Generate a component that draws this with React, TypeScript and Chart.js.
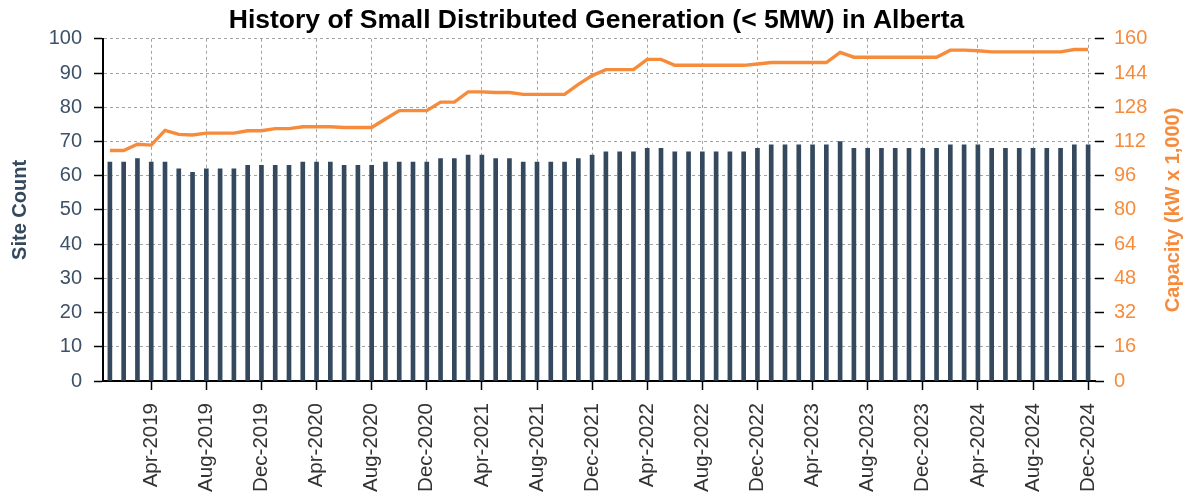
import React, { useEffect, useRef } from "react";
import { Chart, registerables } from "chart.js";

Chart.register(...registerables);

const months: string[] = [
  "Jan-2019", "Feb-2019", "Mar-2019", "Apr-2019", "May-2019", "Jun-2019", "Jul-2019", "Aug-2019", "Sep-2019", "Oct-2019", "Nov-2019", "Dec-2019",
  "Jan-2020", "Feb-2020", "Mar-2020", "Apr-2020", "May-2020", "Jun-2020", "Jul-2020", "Aug-2020", "Sep-2020", "Oct-2020", "Nov-2020", "Dec-2020",
  "Jan-2021", "Feb-2021", "Mar-2021", "Apr-2021", "May-2021", "Jun-2021", "Jul-2021", "Aug-2021", "Sep-2021", "Oct-2021", "Nov-2021", "Dec-2021",
  "Jan-2022", "Feb-2022", "Mar-2022", "Apr-2022", "May-2022", "Jun-2022", "Jul-2022", "Aug-2022", "Sep-2022", "Oct-2022", "Nov-2022", "Dec-2022",
  "Jan-2023", "Feb-2023", "Mar-2023", "Apr-2023", "May-2023", "Jun-2023", "Jul-2023", "Aug-2023", "Sep-2023", "Oct-2023", "Nov-2023", "Dec-2023",
  "Jan-2024", "Feb-2024", "Mar-2024", "Apr-2024", "May-2024", "Jun-2024", "Jul-2024", "Aug-2024", "Sep-2024", "Oct-2024", "Nov-2024", "Dec-2024",
];

const shownMonthLabels: string[] = [
  "Apr-2019", "Aug-2019", "Dec-2019", "Apr-2020", "Aug-2020", "Dec-2020",
  "Apr-2021", "Aug-2021", "Dec-2021", "Apr-2022", "Aug-2022", "Dec-2022",
  "Apr-2023", "Aug-2023", "Dec-2023", "Apr-2024", "Aug-2024", "Dec-2024",
];

const siteCount: number[] = [
  64, 64, 65, 64, 64, 62, 61, 62, 62, 62, 63, 63,
  63, 63, 64, 64, 64, 63, 63, 63, 64, 64, 64, 64,
  65, 65, 66, 66, 65, 65, 64, 64, 64, 64, 65, 66,
  67, 67, 67, 68, 68, 67, 67, 67, 67, 67, 67, 68,
  69, 69, 69, 69, 69, 70, 68, 68, 68, 68, 68, 68,
  68, 69, 69, 69, 68, 68, 68, 68, 68, 68, 69, 69,
];

const capacity: number[] = [
  107.8, 107.8, 110.7, 110.3, 117.2, 115.3, 115.0, 115.9, 115.9, 115.9, 117.0, 117.0,
  118.0, 118.0, 118.9, 118.9, 118.9, 118.5, 118.5, 118.5, 122.5, 126.4, 126.4, 126.4,
  130.4, 130.4, 135.2, 135.2, 134.9, 134.9, 134.0, 134.0, 134.0, 134.0, 138.7, 142.8,
  145.6, 145.6, 145.6, 150.4, 150.4, 147.6, 147.6, 147.6, 147.6, 147.6, 147.6, 148.2,
  148.9, 148.9, 148.9, 148.9, 148.9, 153.6, 151.4, 151.4, 151.4, 151.4, 151.4, 151.4,
  151.4, 154.7, 154.7, 154.4, 153.9, 153.9, 153.9, 153.9, 153.9, 153.9, 155.0, 155.0,
];

const TITLE = "History of Small Distributed Generation (< 5MW) in Alberta";
const LEFT_TITLE = "Site Count";
const RIGHT_TITLE = "Capacity (kW x 1,000)";

const SLATE = "#34495e";
const SLATE_TEXT = "#3d5168";
const ORANGE = "#f68b3c";
const GRID = "#a3a3a3";
const FONT = "Arial, 'Liberation Sans', Helvetica, sans-serif";

const rightTitlePlugin = {
  id: "rightTitle",
  afterDraw(chart: any) {
    const { ctx, chartArea } = chart;
    const s = chart.scales.y1;
    ctx.save();
    ctx.translate(s.right - 20, (chartArea.top + chartArea.bottom) / 2);
    ctx.rotate(-Math.PI / 2);
    ctx.font = `bold 20px ${FONT}`;
    ctx.fillStyle = ORANGE;
    ctx.textAlign = "center";
    ctx.textBaseline = "middle";
    ctx.fillText(RIGHT_TITLE, 0, 0);
    ctx.restore();
  },
};

export default function App() {
  const ref = useRef<HTMLCanvasElement | null>(null);

  useEffect(() => {
    if (!ref.current) return;
    Chart.defaults.font.family = FONT;
    const shown = new Set(shownMonthLabels);
    const chart = new Chart(ref.current, {
      type: "bar",
      data: {
        labels: months,
        datasets: [
          {
            type: "line",
            label: "Capacity",
            data: capacity,
            yAxisID: "y1",
            borderColor: ORANGE,
            backgroundColor: ORANGE,
            borderWidth: 3.4,
            pointRadius: 0,
            tension: 0,
            order: 0,
          } as any,
          {
            type: "bar",
            label: "Site Count",
            data: siteCount,
            yAxisID: "y",
            backgroundColor: SLATE,
            barThickness: 4,
            order: 1,
          },
        ],
      },
      options: {
        responsive: false,
        animation: false,
        layout: { padding: 0 },
        plugins: {
          legend: { display: false },
          tooltip: { enabled: false },
          title: {
            display: true,
            text: TITLE,
            color: "#000",
            font: { size: 26.5, weight: "bold", family: FONT },
            padding: { top: 5, bottom: 2 },
          },
        },
        scales: {
          x: {
            offset: true,
            grid: {
              offset: false,
              color: GRID,
              lineWidth: 1,
              tickColor: "#000",
              tickLength: 9,
              tickWidth: 1.5,
            },
            border: { display: true, color: "#000", width: 2, dash: [3, 3] },
            ticks: {
              autoSkip: false,
              minRotation: 90,
              maxRotation: 90,
              padding: 13,
              color: "#333",
              font: { size: 20.5, family: FONT },
            },
            afterBuildTicks: (scale: any) => {
              scale.ticks = scale.ticks.filter((t: any) => shown.has(months[t.value]));
            },
            afterFit: (scale: any) => {
              scale.height = 112;
            },
          },
          y: {
            position: "left",
            min: 0,
            max: 100,
            ticks: {
              stepSize: 10,
              color: SLATE_TEXT,
              padding: 12,
              font: { size: 20, family: FONT },
            },
            grid: {
              color: GRID,
              lineWidth: 1,
              tickColor: "#000",
              tickLength: 9,
              tickWidth: 1.5,
            },
            border: { display: true, color: "#000", width: 2, dash: [3, 3] },
            title: {
              display: true,
              text: LEFT_TITLE,
              color: SLATE,
              font: { size: 20, weight: "bold", family: FONT },
              padding: { top: 8, bottom: 0 },
            },
            afterFit: (scale: any) => {
              scale.width = 103;
            },
          },
          y1: {
            position: "right",
            min: 0,
            max: 160,
            ticks: {
              stepSize: 16,
              color: ORANGE,
              padding: 10,
              font: { size: 20, family: FONT },
            },
            grid: {
              drawOnChartArea: false,
              tickColor: "#000",
              tickLength: 9,
              tickWidth: 1.5,
            },
            border: { display: false },
            afterFit: (scale: any) => {
              scale.width = 98;
            },
          },
        },
      },
      plugins: [rightTitlePlugin],
    });
    return () => chart.destroy();
  }, []);

  return (
    <div style={{ position: "absolute", left: 0, top: 0, width: 1193, height: 493, background: "#fff" }}>
      <canvas ref={ref} width={1193} height={493} style={{ display: "block" }} />
    </div>
  );
}
